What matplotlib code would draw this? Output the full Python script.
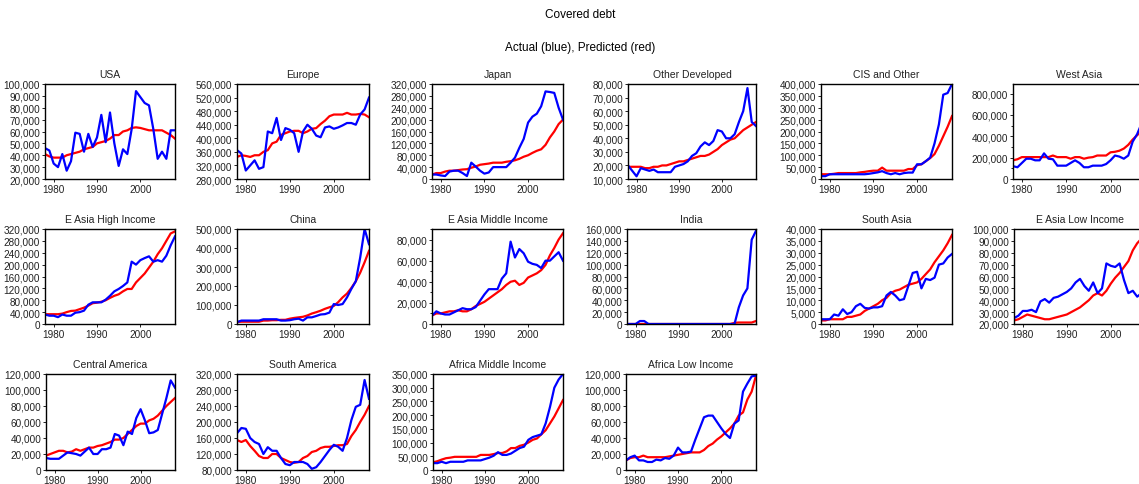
import matplotlib
matplotlib.use("Agg")
import matplotlib.pyplot as plt
import numpy as np
from matplotlib.ticker import FuncFormatter, MultipleLocator

plt.rcParams['font.family'] = ['Liberation Sans', 'DejaVu Sans']

years = np.arange(1978, 2009)

titles = ["USA", "Europe", "Japan", "Other Developed", "CIS and Other", "West Asia",
          "E Asia High Income", "China", "E Asia Middle Income", "India", "South Asia",
          "E Asia Low Income", "Central America", "South America",
          "Africa Middle Income", "Africa Low Income"]

# actual (blue), in thousands
actual = {
    "USA": [46, 44, 33, 30, 41, 27, 35, 59, 58, 43, 58, 47, 55, 74, 51, 76, 50, 31, 45, 41,
            62, 94, 89, 84, 82, 62, 37, 43, 37, 61, 61],
    "Europe": [365, 355, 305, 320, 335, 310, 315, 420, 415, 460, 395, 430, 425, 415, 360, 420,
               440, 428, 408, 403, 432, 435, 428, 432, 438, 445, 445, 440, 470, 485, 520],
    "Japan": [15, 15, 12, 10, 25, 28, 28, 20, 10, 55, 42, 28, 18, 22, 40, 40, 40, 40, 55, 72,
              105, 135, 190, 210, 220, 245, 295, 293, 290, 240, 200],
    "Other Developed": [20, 16, 12, 18, 17, 16, 17, 15, 15, 15, 15, 19, 20, 21, 23, 27, 29, 34,
                        37, 35, 38, 46, 45, 40, 40, 43, 52, 60, 77, 52, 49],
    "CIS and Other": [12, 12, 20, 20, 20, 20, 20, 20, 20, 20, 20, 22, 25, 28, 33, 25, 20, 25,
                      20, 25, 27, 27, 62, 62, 75, 90, 150, 230, 355, 362, 400],
    "West Asia": [120, 110, 150, 190, 190, 175, 175, 240, 190, 185, 125, 125, 125, 150, 175,
                  150, 110, 110, 125, 125, 125, 140, 175, 220, 210, 190, 220, 350, 420, 520, 600],
    "E Asia High Income": [32, 28, 28, 23, 32, 28, 28, 38, 40, 45, 65, 73, 73, 73, 82, 95, 110,
                           118, 128, 140, 210, 200, 215, 222, 228, 210, 215, 210, 230, 265, 295],
    "China": [10, 18, 18, 18, 18, 18, 25, 25, 25, 25, 18, 18, 20, 25, 28, 18, 35, 35, 42, 50,
              52, 60, 105, 100, 105, 140, 185, 225, 350, 500, 420],
    "E Asia Middle Income": [8, 12, 10, 9, 9, 11, 13, 15, 14, 14, 16, 22, 28, 33, 33, 33, 43,
                             48, 78, 63, 71, 67, 59, 57, 56, 53, 60, 60, 64, 68, 60],
    "India": [0, 0, 0, 5, 5, 0, 0, 0, 0, 0, 0, 0, 0, 0, 0, 0, 0, 0, 0, 0, 0, 0, 0, 0, 0, 0,
              28, 48, 60, 142, 157],
    "South Asia": [2.0, 2.0, 2.0, 4.0, 3.5, 6.2, 4.2, 5.0, 7.5, 8.5, 6.8, 6.5, 7.0, 7.0, 7.5,
                   12.0, 13.5, 12.0, 10.0, 10.5, 16.0, 21.5, 22.0, 15.0, 19.0, 18.5, 19.5, 25.0,
                   25.5, 28.0, 29.5],
    "E Asia Low Income": [25, 27, 31, 31, 32, 30, 39, 41, 38, 42, 43, 45, 47, 50, 55, 58, 52,
                          48, 55, 46, 50, 71, 69, 68, 71, 57, 46, 48, 43, 46, 48],
    "Central America": [15, 14, 14, 14, 18, 22, 21, 20, 18, 23, 28, 20, 20, 26, 26, 28, 45, 43,
                        31, 48, 45, 65, 76, 62, 46, 47, 50, 70, 90, 112, 103],
    "South America": [172, 185, 183, 160, 150, 145, 120, 137, 128, 128, 110, 95, 92, 100, 100,
                      100, 95, 83, 87, 100, 115, 130, 143, 138, 128, 160, 205, 238, 243, 305, 258],
    "Africa Middle Income": [25, 25, 30, 25, 30, 30, 30, 30, 35, 35, 35, 35, 40, 45, 52, 65, 55,
                             55, 60, 70, 80, 85, 110, 120, 125, 130, 170, 230, 300, 330, 350],
    "Africa Low Income": [12, 16, 18, 12, 12, 10, 10, 13, 12, 15, 14, 18, 28, 22, 22, 23, 38,
                          52, 66, 68, 68, 60, 52, 45, 40, 58, 62, 98, 108, 117, 118],
}

# predicted (red), in thousands
predicted = {
    "USA": [41, 39, 38, 38, 38, 40, 41, 42, 43, 45, 46, 47, 50, 51, 52, 54, 57, 57, 60, 61,
            63, 63.5, 63, 62, 61, 61, 61, 61, 59, 57, 54],
    "Europe": [345, 350, 348, 345, 350, 350, 360, 365, 385, 390, 410, 415, 420, 422, 422, 415,
               420, 428, 430, 442, 452, 465, 470, 470, 470, 475, 470, 470, 472, 470, 462],
    "Japan": [15, 20, 20, 25, 28, 28, 30, 32, 33, 38, 42, 48, 50, 52, 55, 55, 55, 58, 60, 63,
              68, 75, 80, 88, 95, 100, 115, 140, 160, 185, 200],
    "Other Developed": [19, 19, 19, 19, 18, 18, 19, 19, 20, 20, 21, 22, 23, 23, 24, 25, 26, 27,
                        27, 28, 30, 32, 35, 37, 39, 40, 43, 46, 48, 50, 52],
    "CIS and Other": [20, 20, 20, 22, 25, 25, 25, 25, 25, 28, 30, 33, 35, 35, 48, 35, 35, 35,
                      35, 35, 42, 42, 58, 62, 75, 88, 105, 140, 180, 220, 265],
    "West Asia": [175, 185, 205, 205, 205, 205, 205, 205, 205, 220, 205, 205, 205, 190, 205,
                  205, 190, 200, 205, 220, 220, 220, 250, 255, 265, 285, 320, 370, 410, 450, 480],
    "E Asia High Income": [33, 33, 33, 33, 35, 40, 44, 45, 50, 55, 62, 70, 72, 75, 80, 88, 95,
                           100, 110, 118, 118, 140, 155, 170, 190, 210, 235, 255, 280, 305, 312],
    "China": [10, 12, 12, 12, 12, 12, 18, 18, 20, 20, 22, 22, 28, 32, 35, 38, 45, 55, 62, 70,
              80, 88, 95, 115, 140, 160, 190, 225, 270, 325, 385],
    "E Asia Middle Income": [8, 10, 10, 11, 12, 12, 13, 12, 12, 14, 17, 19, 21, 24, 27, 30, 33,
                             37, 40, 41, 37, 39, 44, 46, 48, 51, 56, 65, 72, 80, 86],
    "India": [0, 0, 0, 0, 0, 0, 0, 0, 0, 0, 0, 0, 0, 0, 0, 0, 0, 0, 0, 0, 0, 0, 0, 0, 0, 2,
              2.5, 2.5, 2.5, 2.5, 5],
    "South Asia": [1.5, 1.5, 2.0, 2.0, 2.0, 2.0, 3.0, 3.0, 3.5, 4.0, 5.5, 6.5, 7.5, 8.5, 10.0,
                   11.0, 13.0, 14.0, 14.5, 15.5, 16.5, 17.0, 17.5, 19.0, 21.0, 23.0, 26.0, 28.5,
                   31.0, 34.0, 37.5],
    "E Asia Low Income": [23, 24, 26, 28, 27, 26, 25, 24, 24, 25, 26, 27, 28, 30, 32, 34, 37,
                          40, 44, 46, 44, 48, 54, 59, 63, 68, 73, 82, 88, 92, 96],
    "Central America": [18, 20, 22, 24, 24, 22, 23, 26, 24, 26, 28, 28, 30, 31, 33, 35, 38, 38,
                        40, 45, 50, 55, 58, 58, 62, 64, 68, 74, 80, 85, 90],
    "South America": [155, 150, 155, 140, 128, 115, 110, 110, 120, 120, 110, 105, 100, 98, 100,
                      110, 115, 125, 128, 135, 138, 138, 140, 142, 142, 145, 165, 180, 200, 218,
                      240],
    "Africa Middle Income": [28, 32, 38, 43, 45, 48, 48, 48, 48, 48, 48, 55, 55, 55, 58, 62, 62,
                             68, 80, 80, 88, 92, 100, 110, 115, 130, 145, 170, 195, 225, 255],
    "Africa Low Income": [12, 15, 16, 16, 18, 16, 16, 16, 16, 16, 17, 18, 19, 20, 21, 22, 22,
                          22, 25, 30, 33, 38, 42, 47, 52, 58, 68, 72, 88, 98, 118],
}

# y range and major tick step, in thousands
y_ranges = {
    "USA": (20, 100, 10), "Europe": (280, 560, 40), "Japan": (0, 320, 40),
    "Other Developed": (10, 80, 10), "CIS and Other": (0, 400, 50), "West Asia": (0, 890, 200),
    "E Asia High Income": (0, 320, 40), "China": (0, 500, 100),
    "E Asia Middle Income": (0, 90, 20), "India": (0, 160, 20), "South Asia": (0, 40, 5),
    "E Asia Low Income": (20, 100, 10), "Central America": (0, 120, 20),
    "South America": (80, 320, 40), "Africa Middle Income": (0, 350, 50),
    "Africa Low Income": (0, 120, 20),
}

W, H = 1139, 485
fig = plt.figure(figsize=(W / 100, H / 100), dpi=100)

# panel boxes in pixels: left, right, top, bottom
rows = [(85, 180), (230, 325), (375, 471)]
lefts = [45, 237, 432, 628, 821, 1013,
         45, 237, 432, 627, 821, 1014,
         46, 237, 433, 626]
rights = [175, 369, 563, 756, 952, 1146]

fmt = FuncFormatter(lambda v, p: "0" if v == 0 else "{:,.0f}".format(v))

for i, name in enumerate(titles):
    r, c = divmod(i, 6)
    top, bot = rows[r]
    l, rr = lefts[i], rights[c]
    ax = fig.add_axes([l / W, 1 - bot / H, (rr - l) / W, (bot - top) / H])
    lo, hi, step = y_ranges[name]
    ax.plot(years, np.array(predicted[name]) * 1000, color="#ff0000", lw=1.6)
    ax.plot(years, np.array(actual[name]) * 1000, color="#0000ff", lw=1.6)
    ax.set_xlim(1978, 2008)
    ax.set_ylim(lo * 1000, hi * 1000)
    ax.set_xticks([1980, 1990, 2000])
    ax.yaxis.set_major_locator(MultipleLocator(step * 1000))
    if name in ("West Asia", "E Asia Middle Income"):
        ax.yaxis.set_minor_locator(MultipleLocator(step * 500))
    ax.yaxis.set_major_formatter(fmt)
    ax.tick_params(direction="out", length=2.5, width=0.6, labelsize=7.2, pad=1,
                   colors="black", labelcolor="#222222")
    ax.tick_params(which="minor", direction="out", length=1.5, width=0.6)
    for s in ax.spines.values():
        s.set_linewidth(1.0)
    ax.set_title(name, fontsize=7.5, pad=5, color="#222222")

fig.text(580 / W, 1 - 15 / H, "Covered debt", ha="center", va="center", fontsize=8.5)
fig.text(580 / W, 1 - 48 / H, "Actual (blue), Predicted (red)", ha="center", va="center",
         fontsize=8.5)

fig.savefig("out.png", dpi=100)
